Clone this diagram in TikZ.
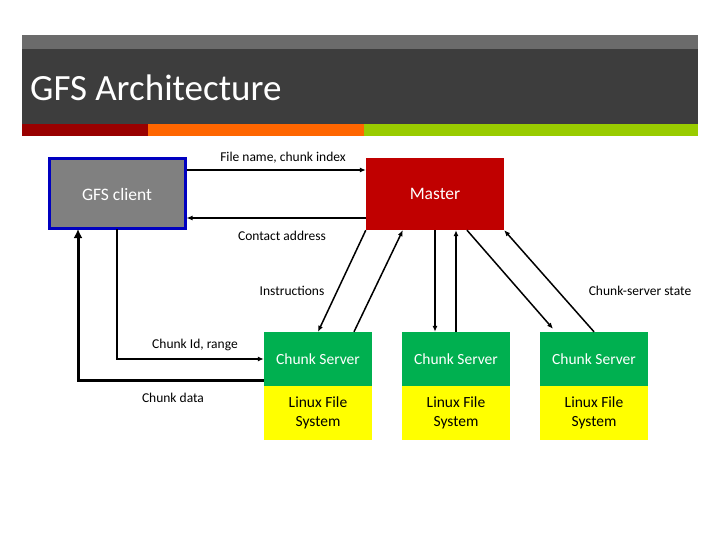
\documentclass[tikz,border=0pt]{standalone}
\usepackage{fontspec}
\setmainfont{Carlito}
\usetikzlibrary{arrows.meta,calc}
\definecolor{topgray}{HTML}{6B6B6B}
\definecolor{band}{HTML}{3D3D3D}
\definecolor{strR}{HTML}{990000}
\definecolor{strO}{HTML}{FF6600}
\definecolor{strG}{HTML}{99CC00}
\definecolor{clientgray}{HTML}{808080}
\definecolor{clientblue}{HTML}{0000C0}
\definecolor{masterred}{HTML}{C00000}
\definecolor{csgreen}{HTML}{00B050}
\definecolor{fsyellow}{HTML}{FFFF00}
\tikzset{
  box/.style={draw=none, minimum width=108pt, minimum height=54pt, inner sep=0pt, align=center, font=\fontsize{15.5}{19}\selectfont},
  csbox/.style={box, fill=csgreen, text=white},
  fsbox/.style={box, fill=fsyellow, text=black},
  arr/.style={line width=1.5pt, -{Latex[length=6pt,width=5pt]}},
  bigarr/.style={line width=3pt, -{Latex[length=9pt,width=9pt]}},
  lbl/.style={font=\fontsize{13.5}{15}\selectfont, inner sep=0pt}
}
\begin{document}
\begin{tikzpicture}[x=1pt,y=-1pt]
\useasboundingbox[fill=white] (0,0) rectangle (720,540);
% title band
\fill[topgray] (22,35) rectangle (698,49);
\fill[band] (22,49) rectangle (698,124);
\fill[strR] (22,124) rectangle (148,136);
\fill[strO] (148,124) rectangle (364,136);
\fill[strG] (364,124) rectangle (698,136);
\node[anchor=base west, text=white, font=\fontsize{37}{42}\selectfont, inner sep=0pt] (title) at (30,101) {GFS Architecture};
% main boxes
\node[fill=clientgray, draw=clientblue, line width=3pt, minimum width=136pt, minimum height=70pt, text=white, font=\fontsize{17.5}{20}\selectfont] (client) at (117,194) {GFS client};
\node[fill=masterred, minimum width=138pt, minimum height=72pt, text=white, font=\fontsize{17.5}{20}\selectfont] (master) at (435,194) {Master};
% chunk servers
\node[csbox] (cs1) at (318,359) {Chunk Server};
\node[fsbox] (fs1) at (318,413) {Linux File\\System};
\node[csbox] (cs2) at (456,359) {Chunk Server};
\node[fsbox] (fs2) at (456,413) {Linux File\\System};
\node[csbox] (cs3) at (594,359) {Chunk Server};
\node[fsbox] (fs3) at (594,413) {Linux File\\System};
% client <-> master
\draw[arr] ([yshift=24pt]client.east) -- ([yshift=24pt]master.west);
\draw[arr] ([yshift=-24pt]master.west) -- ([yshift=-24pt]client.east);
\node[lbl] (l1) at (283,158) {File name, chunk index};
\node[lbl] (l2) at (282,236) {Contact address};
% master <-> chunk servers
\draw[arr] (master.south west) -- (cs1.north);
\draw[arr] ([xshift=36pt]cs1.north) -- ([xshift=37pt]master.south west);
\draw[arr] (master.south) -- ([xshift=-21pt]cs2.north);
\draw[arr] (cs2.north) -- ([xshift=21pt]master.south);
\draw[arr] ([xshift=32pt]master.south) -- ([xshift=-41pt,yshift=3pt]cs3.north);
\draw[arr] (cs3.north) -- (master.south east);
\node[lbl] (l3) at (292,291) {Instructions};
\node[lbl] (l4) at (640,291) {Chunk-server state};
% client <-> chunk server
\draw[arr] ([yshift=1.5pt]client.south) |- (cs1.west);
\draw[bigarr] ([yshift=-21pt]cs1.west) -| ([xshift=-39pt,yshift=1.5pt]client.south);
\node[lbl] (l5) at (195,345) {Chunk Id, range};
\node[lbl] (l6) at (173,398) {Chunk data};
\end{tikzpicture}
\end{document}
